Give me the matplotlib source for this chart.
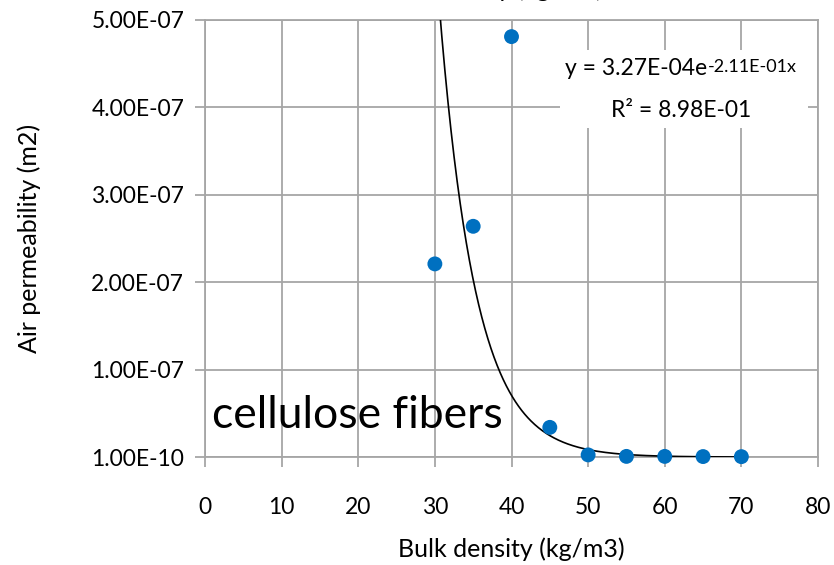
import matplotlib.pyplot as plt
import numpy as np
from matplotlib.patches import Rectangle
from matplotlib.ticker import FuncFormatter

plt.rcParams['font.family'] = ['Lato', 'DejaVu Sans']

# bulk density (kg/m3) and measured air permeability (m2)
density = [30, 35, 40, 45, 50, 55, 60, 65, 70]
permeability = [2.21e-7, 2.64e-7, 4.81e-7, 3.4e-8, 2.5e-9, 8e-10, 8e-10, 6e-10, 5e-10]

# exponential trendline y = a * exp(b * x)
fit_a = 3.27e-4
fit_b = -2.11e-1
fit_r2 = 8.98e-1

y_ticks = [1e-10, 1e-7, 2e-7, 3e-7, 4e-7, 5e-7]
x_ticks = [0, 10, 20, 30, 40, 50, 60, 70, 80]

fig = plt.figure(figsize=(8.34, 5.65), dpi=100)
ax = fig.add_axes([205 / 834, 1 - 457 / 565, 613 / 834, 437 / 565])

grid_c = '#a6a6a6'
ax.set_xlim(0, 80)
ax.set_ylim(1e-10, 5e-7)
ax.set_xticks(x_ticks)
ax.set_yticks(y_ticks)
ax.yaxis.set_major_formatter(FuncFormatter(lambda v, p: f"{v:.2E}"))
ax.grid(True, color=grid_c, linewidth=1.3)
ax.set_axisbelow(True)
for s in ax.spines.values():
    s.set_color(grid_c)
    s.set_linewidth(1.3)
ax.tick_params(axis='both', color=grid_c, width=1.3, length=7, labelsize=16.5,
               labelcolor='black')
ax.tick_params(axis='x', pad=22)
ax.tick_params(axis='y', pad=8)

xs = np.linspace(min(density), max(density), 400)
ax.plot(xs, fit_a * np.exp(fit_b * xs), color='black', linewidth=1.2, zorder=3)
ax.scatter(density, permeability, s=115, color='#0070c0', zorder=4,
           edgecolors='none', clip_on=False)

ax.set_xlabel('Bulk density (kg/m3)', fontsize=18, labelpad=14)
ax.set_ylabel('Air permeability (m2)', fontsize=18, labelpad=36)

ax.text(0.012, 0.066, 'cellulose fibers', transform=ax.transAxes, fontsize=32,
        ha='left', va='baseline')

# trendline equation on a white patch
ax.add_patch(Rectangle((0.579, 0.753), 0.405, 0.178, transform=ax.transAxes,
                       facecolor='white', edgecolor='none', zorder=5))
ax.text(0.819, 0.874, f"y = {fit_a:.2E}e", transform=ax.transAxes,
        fontsize=16.5, ha='right', va='baseline', zorder=6)
ax.text(0.8206, 0.882, f"{fit_b:.2E}x", transform=ax.transAxes,
        fontsize=13, ha='left', va='baseline', zorder=6)
ax.text(0.7765, 0.778, f"R\u00b2 = {fit_r2:.2E}", transform=ax.transAxes,
        fontsize=16.5, ha='center', va='baseline', zorder=6)

# title sitting mostly above the canvas
fig.text(603 / 834, 1 + 3 / 565, 'Bulk density (kg/m3)', fontsize=18,
         ha='right', va='baseline')

fig.savefig('out.png', dpi=100)
